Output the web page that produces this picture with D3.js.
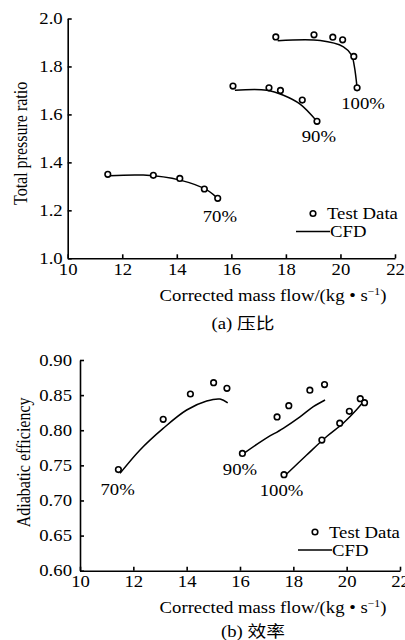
<!DOCTYPE html>
<html>
<head>
<meta charset="utf-8">
<script src="https://cdn.jsdelivr.net/npm/d3@7"></script>
<style>
  body { margin: 0; background: #fff; }
  text { font-family: "Liberation Serif", "Noto Sans CJK SC", serif; fill: #000; }
</style>
</head>
<body>
<div id="canvas"></div>
<script>
"use strict"

// speed lines
let speeds = ["70%", "90%", "100%"];

// (a) pressure ratio, test data
let prTestX = [
    [11.47, 13.14, 14.11, 15.01, 15.50],
    [16.06, 17.38, 17.80, 18.60, 19.14],
    [17.63, 19.03, 19.72, 20.08, 20.49, 20.61]
];
let prTestY = [
    [1.350, 1.346, 1.333, 1.289, 1.250],
    [1.718, 1.711, 1.700, 1.660, 1.571],
    [1.923, 1.932, 1.922, 1.911, 1.842, 1.711]
];
// (a) pressure ratio, CFD
let prCfdX = [
    [11.53, 12.77, 14.12, 15.10, 15.58],
    [16.13, 17.30, 17.91, 18.52, 19.14],
    [17.70, 19.26, 20.11, 20.41, 20.51, 20.61]
];
let prCfdY = [
    [1.344, 1.347, 1.326, 1.285, 1.240],
    [1.701, 1.701, 1.680, 1.643, 1.571],
    [1.907, 1.908, 1.882, 1.847, 1.800, 1.711]
];
let prLabelX = [15.58, 19.21, 20.83];
let prLabelY = [1.173, 1.510, 1.647];

// (b) efficiency, test data
let efTestX = [
    [11.44, 13.12, 14.14, 15.01, 15.51],
    [16.09, 17.39, 17.83, 18.62, 19.17],
    [17.65, 19.07, 19.74, 20.10, 20.51, 20.67]
];
let efTestY = [
    [0.744, 0.8155, 0.8516, 0.8677, 0.8597],
    [0.767, 0.819, 0.835, 0.857, 0.865],
    [0.7367, 0.786, 0.810, 0.8269, 0.845, 0.8393]
];
// (b) efficiency, CFD
let efCfdX = [
    [11.50, 12.25, 13.12, 14.00, 14.75, 15.25, 15.54],
    [16.09, 16.87, 17.62, 18.25, 18.75, 19.19],
    [17.73, 18.50, 19.25, 19.87, 20.37, 20.65]
];
let efCfdY = [
    [0.7386, 0.772, 0.8027, 0.8288, 0.8416, 0.8444, 0.839],
    [0.7656, 0.786, 0.8027, 0.819, 0.8336, 0.843],
    [0.737, 0.7647, 0.791, 0.810, 0.829, 0.842]
];
let efLabelX = [11.41, 16.00, 17.56];
let efLabelY = [0.716, 0.744, 0.7148];

let xTicks = [10, 12, 14, 16, 18, 20, 22];
let prTicks = [1.0, 1.2, 1.4, 1.6, 1.8, 2.0];
let efTicks = [0.60, 0.65, 0.70, 0.75, 0.80, 0.85, 0.90];

// the scanned lettering is a bit wider than Times
let SX = 1.17;
let FS = 16;

let drawing = d3.select("#canvas")
    .append("svg")
    .attr("width", 405)
    .attr("height", 640);

// widen a horizontal text about its own x
function widen(sel) {
    sel.each(function () {
        let t = d3.select(this);
        let x = +(t.attr("x") || 0);
        t.attr("x", x / SX).attr("transform", "scale(" + SX + ",1)");
    });
    return sel;
}

function hText(x, y, s) {
    let t = drawing.append("text")
        .attr("x", x)
        .attr("y", y)
        .attr("font-size", FS)
        .text(s);
    return widen(t);
}

function drawPanel(opt) {
    let x = d3.scaleLinear().domain([10, 22]).range([opt.left, opt.right]);
    let y = d3.scaleLinear().domain(opt.yDomain).range([opt.bottom, opt.top]);

    // axes, ticks pointing inward
    let xAxis = drawing.append("g")
        .attr("transform", "translate(0," + opt.bottom + ")")
        .call(d3.axisBottom(x).tickValues(xTicks).tickFormat(d3.format("d"))
            .tickSizeInner(-4).tickSizeOuter(0).tickPadding(5));
    let yAxis = drawing.append("g")
        .attr("transform", "translate(" + opt.left + ",0)")
        .call(d3.axisLeft(y).tickValues(opt.yTicks).tickFormat(d3.format(opt.yFormat))
            .tickSizeInner(-4).tickSizeOuter(0).tickPadding(opt.yPad));
    [xAxis, yAxis].forEach(function (a) {
        a.selectAll("path, line").attr("stroke", "#000").attr("stroke-width", 1.6);
        widen(a.selectAll("text")
            .style("font-family", "Liberation Serif")
            .attr("font-size", FS)
            .attr("fill", "#000"));
    });

    // CFD curves
    let line = d3.line()
        .x(d => x(d[0]))
        .y(d => y(d[1]))
        .curve(d3.curveCatmullRom.alpha(0.5));
    opt.cfdX.forEach(function (xs, i) {
        drawing.append("path")
            .attr("d", line(xs.map((v, j) => [v, opt.cfdY[i][j]])))
            .attr("fill", "none")
            .attr("stroke", "#000")
            .attr("stroke-width", 1.5);
    });

    // test data markers
    opt.testX.forEach(function (xs, i) {
        drawing.selectAll(null)
            .data(xs.map((v, j) => [v, opt.testY[i][j]]))
            .enter()
            .append("circle")
            .attr("cx", d => x(d[0]))
            .attr("cy", d => y(d[1]))
            .attr("r", 2.8)
            .attr("fill", "#fff")
            .attr("stroke", "#000")
            .attr("stroke-width", 1.6);
    });

    // speed labels
    speeds.forEach(function (s, i) {
        hText(x(opt.labelX[i]), y(opt.labelY[i]), s)
            .attr("dy", "0.35em")
            .attr("text-anchor", "middle");
    });

    // legend
    let lx = opt.legend[0], ly = opt.legend[1];
    drawing.append("circle").attr("cx", lx).attr("cy", ly).attr("r", 2.8)
        .attr("fill", "#fff").attr("stroke", "#000").attr("stroke-width", 1.6);
    hText(lx + 14, ly, "Test Data").attr("dy", "0.35em");
    drawing.append("line").attr("x1", lx - 17).attr("x2", lx + 17)
        .attr("y1", ly + 18).attr("y2", ly + 18)
        .attr("stroke", "#000").attr("stroke-width", 1.5);
    hText(lx + 17, ly + 18, "CFD").attr("dy", "0.35em");

    // axis titles
    let xt = hText(273, opt.xTitleY, "").attr("text-anchor", "middle");
    xt.append("tspan").text("Corrected mass flow/(kg \u2022 s");
    xt.append("tspan").attr("font-size", 10).attr("dy", -6).text("\u22121");
    xt.append("tspan").attr("dy", 6).text(")");

    drawing.append("text")
        .attr("transform", "translate(" + opt.yTitleX + "," + ((opt.top + opt.bottom) / 2 + opt.yTitleShift) + ") rotate(-90) scale(1," + SX + ")")
        .attr("text-anchor", "middle")
        .attr("font-size", FS)
        .text(opt.yTitle);

    hText(opt.capX, opt.capY, opt.caption).attr("text-anchor", "middle");
}

drawPanel({
    left: 67.7, right: 395, top: 18.5, bottom: 258.3,
    yDomain: [1.0, 2.0], yTicks: prTicks, yFormat: ".1f", yPad: 5,
    testX: prTestX, testY: prTestY, cfdX: prCfdX, cfdY: prCfdY,
    labelX: prLabelX, labelY: prLabelY,
    legend: [313, 213.5],
    xTitleY: 301, yTitleX: 27, yTitleShift: 5, yTitle: "Total pressure ratio",
    capX: 243, capY: 329, caption: "(a) 压比"
});

drawPanel({
    left: 80, right: 400, top: 360, bottom: 570.7,
    yDomain: [0.60, 0.90], yTicks: efTicks, yFormat: ".2f", yPad: 8,
    testX: efTestX, testY: efTestY, cfdX: efCfdX, cfdY: efCfdY,
    labelX: efLabelX, labelY: efLabelY,
    legend: [315, 532],
    xTitleY: 613, yTitleX: 30, yTitleShift: -3, yTitle: "Adiabatic efficiency",
    capX: 253, capY: 637, caption: "(b) 效率"
});
</script>
</body>
</html>
